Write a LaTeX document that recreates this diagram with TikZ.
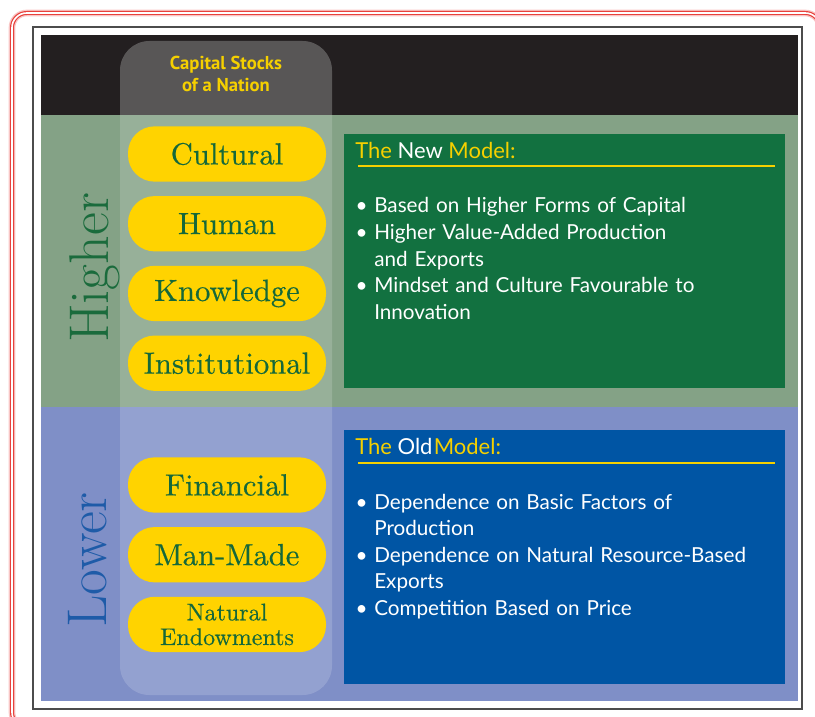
\documentclass[tikz,border=0pt]{standalone}
\usepackage{fontspec}
\newfontfamily\bodyfont{Lato}
\newfontfamily\headfont{PT Sans}
\newfontfamily\pillfont{lmroman10-regular.otf}[FakeBold=0.4]
\usetikzlibrary{positioning}

\definecolor{framered}{HTML}{E8413C}
\definecolor{bandblack}{HTML}{231F20}
\definecolor{bandgreen}{HTML}{84A286}
\definecolor{bandblue}{HTML}{7F8FC7}
\definecolor{pillyellow}{HTML}{FFD300}
\definecolor{pilltext}{HTML}{15683A}
\definecolor{newgreen}{HTML}{127140}
\definecolor{oldblue}{HTML}{0055A4}
\definecolor{highergreen}{HTML}{1A6B3C}
\definecolor{lowerblue}{HTML}{1E5BA8}
\definecolor{titleyellow}{HTML}{F5D000}

\newcommand{\bul}{\leavevmode\llap{\textbullet\hspace{5pt}}}

\tikzset{
    pill/.style={fill=pillyellow, rounded corners=20pt, minimum width=148.5pt,
        minimum height=41.5pt, inner sep=0pt, text=pilltext,
        font=\pillfont\fontsize{23}{23}\selectfont},
    level/.style={rotate=90, anchor=base, inner sep=0pt,
        font=\fontsize{42}{42}\selectfont},
    modeltitle/.style={anchor=base west, inner sep=0pt, text=white,
        font=\bodyfont\fontsize{16.5}{19}\selectfont},
    modellist/.style={anchor=base west, inner sep=0pt, text=white, align=left,
        text width=310pt, font=\bodyfont\fontsize{15.5}{19.9}\selectfont}
}

\begin{document}
\begin{tikzpicture}[x=0.75pt, y=-0.75pt, node distance=52.3pt]
    \useasboundingbox (0,0) rectangle (815,717);

    % outer frame
    \draw [framered!30, line width=5pt, rounded corners=11pt] (12,13) rectangle (820,727);
    \draw [framered, double=white, double distance=1.2pt, line width=0.9pt,
        rounded corners=11pt] (12,13) rectangle (820,727);
    \draw [gray!60!black, fill=white, line width=0.8pt] (33,27) rectangle (802,709);

    % bands
    \fill [bandblack] (41,35) rectangle (798,115);
    \fill [bandgreen] (41,115) rectangle (798,407);
    \fill [bandblue] (41,407) rectangle (798,701);

    % column
    \fill [white, opacity=0.16, rounded corners=22pt] (120,41) rectangle (332,695);
    \begin{scope}
        \clip (41,35) rectangle (798,115);
        \fill [white, opacity=0.1, rounded corners=22pt] (120,41) rectangle (332,695);
    \end{scope}

    \node [text=titleyellow, align=center, font=\headfont\bfseries\fontsize{14}{17}\selectfont]
        (stocks) at (226,74) {Capital Stocks\\of a Nation};

    \node [level, text=highergreen] (higher) at (108,268) {Higher};
    \node [level, text=lowerblue] (lower) at (106,560) {Lower};

    \node [pill] (cultural) at (227,154) {Cultural};
    \node [pill] (human) [below of=cultural] {Human};
    \node [pill] (knowledge) [below of=human] {Knowledge};
    \node [pill] (institutional) [below of=knowledge] {Institutional};

    \node [pill] (financial) at (227,485) {Financial};
    \node [pill] (manmade) [below of=financial] {Man-Made};
    \node [pill, align=center, font=\pillfont\fontsize{18}{18.5}\selectfont]
        (natural) [below of=manmade] {Natural\\Endowments};

    % new model
    \fill [newgreen] (344,134) rectangle (785,388);
    \node [modeltitle] (newtitle) at (355,159)
        {\color{titleyellow}The \color{white}New \color{titleyellow}Model:};
    \draw [titleyellow, line width=1.1pt] (358,166) -- (775,166);
    \node [modellist] (newlist) at (374,213) {%
        \bul Based on Higher Forms of Capital\\
        \bul Higher Value-Added Production\\
        and Exports\\
        \bul Mindset and Culture Favourable to\\
        Innovation};

    % old model
    \fill [oldblue] (344,430) rectangle (785,684);
    \node [modeltitle] (oldtitle) at (355,454)
        {\color{titleyellow}The \color{white}Old\hspace{1pt}\color{titleyellow}Model:};
    \draw [titleyellow, line width=1.1pt] (358,463) -- (775,463);
    \node [modellist] (oldlist) at (374,509) {%
        \bul Dependence on Basic Factors of\\
        Production\\
        \bul Dependence on Natural Resource-Based\\
        Exports\\
        \bul Competition Based on Price};
\end{tikzpicture}
\end{document}
